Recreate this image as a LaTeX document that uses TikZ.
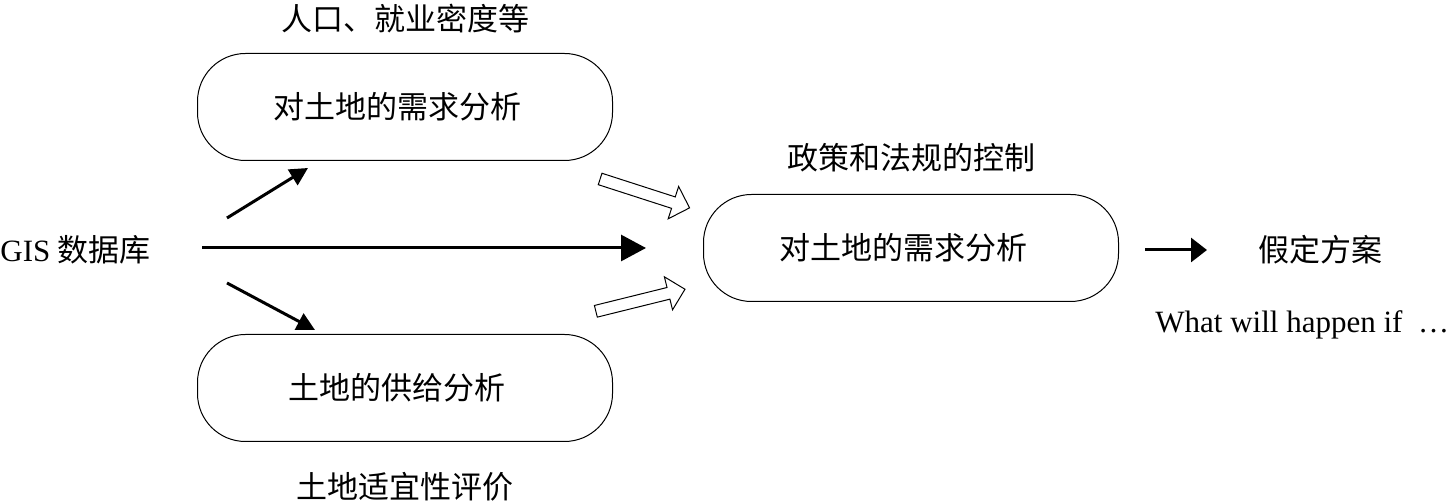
\documentclass[tikz,border=0pt]{standalone}
\usepackage{fontspec}
\setmainfont{Liberation Serif}
\newfontfamily\cjk{Noto Sans CJK SC}
\usetikzlibrary{positioning,shapes.arrows,arrows.meta}
\tikzset{capsule/.style={draw,rectangle,rounded corners=24pt,minimum width=207.5pt,minimum height=53.5pt,line width=0.5pt,font=\cjk\fontsize{15.5}{18}\selectfont},
	 txt/.style={inner sep=0pt,font=\cjk\fontsize{15.5}{18}\selectfont},
	 thick arrow/.style={line width=1.5pt,-{Triangle[length=9pt,width=9pt]}},
	 hollow/.style={single arrow,draw,line width=0.5pt,inner xsep=0pt,inner ysep=2.75pt,single arrow head extend=5.5pt,minimum height=47pt}
	 }

\begin{document}
\begin{tikzpicture}[x=0.5pt,y=-0.5pt]
        \useasboundingbox (0,0) rectangle (1447,501);
        % the three analysis boxes
        \node[capsule] (demand) at (405,107) {对土地的需求分析\hspace*{8pt}};
        \node[capsule] (supply) at (405,388) {土地的供给分析\hspace*{8pt}};
        \node[capsule] (result) at (911,248) {对土地的需求分析\hspace*{8pt}};
        \node[txt] (demandlbl) [above=10pt of demand] {人口、就业密度等};
        \node[txt] (supplylbl) [below=15pt of supply] {土地适宜性评价};
        \node[txt] (resultlbl) [above=11pt of result] {政策和法规的控制};
        \node[txt,anchor=west] (gis) at (0,250) {{\rmfamily\fontsize{15.5}{18}\selectfont GIS} 数据库};
        \node[txt] (plan) at (1320,250) {假定方案};
        \node[inner sep=0pt,anchor=west,font=\fontsize{15.5}{18}\selectfont] (whatif) at (1155,325) {What will happen if\enspace…};
        % arrows
        \coordinate (m0) at (202,248);
        \coordinate (m1) at (646,248);
        \coordinate (u0) at (227,218);
        \coordinate (u1) at (308,168);
        \coordinate (d0) at (227,283);
        \coordinate (d1) at (315,330);
        \coordinate (r0) at (1145,250);
        \coordinate (r1) at (1207,250);
        \draw[line width=1.5pt,-{Triangle[length=12.5pt,width=13pt]}] (m0) -- (m1);
        \draw[thick arrow] (u0) -- (u1);
        \draw[thick arrow] (d0) -- (d1);
        \draw[line width=1.5pt,-{Triangle[length=8pt,width=12pt]}] (r0) -- (r1);
        \node[hollow,rotate=-17.9] (h1) at (642,192.5) {};
        \node[hollow,rotate=13.9,minimum height=45.9pt] (h2) at (637.5,301) {};
\end{tikzpicture}
\end{document}
